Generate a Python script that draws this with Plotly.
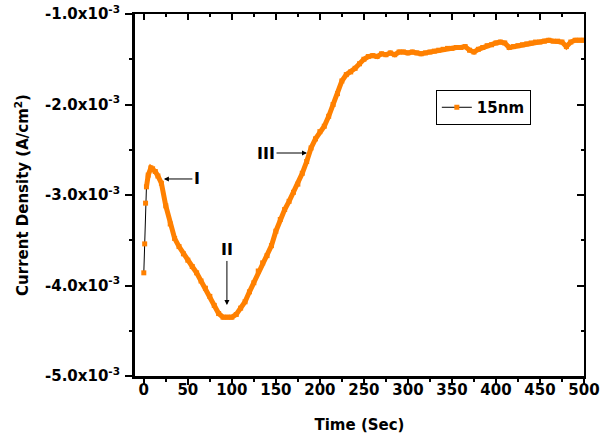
import numpy as np
import plotly.graph_objects as go

# Time (s)
time_s = [0, 1, 2, 3, 5, 8, 10, 13, 16, 20, 25, 30, 35, 40, 45, 50, 55, 60, 65, 70,
          75, 80, 85, 90, 95, 100, 105, 110, 115, 120, 125, 130, 135, 140, 145, 150,
          155, 160, 165, 170, 175, 180, 185, 190, 195, 200, 205, 210, 215, 220, 225,
          230, 235, 240, 245, 250, 255, 260, 265, 270, 275, 280, 285, 290, 295, 300,
          305, 310, 315, 320, 325, 330, 335, 340, 345, 350, 355, 360, 365, 370, 375,
          380, 385, 390, 395, 400, 405, 410, 415, 420, 425, 430, 435, 440, 445, 450,
          455, 460, 465, 470, 475, 480, 485, 490, 495, 500]
# Current density (x1e-3 A/cm^2)
current_e3 = [-3.86, -3.54, -3.09, -2.91, -2.78, -2.70, -2.71, -2.74, -2.79, -2.87,
              -3.12, -3.32, -3.48, -3.57, -3.65, -3.72, -3.79, -3.86, -3.95, -4.03,
              -4.12, -4.22, -4.31, -4.35, -4.35, -4.35, -4.32, -4.25, -4.18, -4.07,
              -3.97, -3.84, -3.75, -3.67, -3.56, -3.40, -3.27, -3.16, -3.07, -2.97,
              -2.88, -2.76, -2.63, -2.48, -2.38, -2.30, -2.24, -2.13, -2.00, -1.88,
              -1.74, -1.67, -1.64, -1.60, -1.55, -1.50, -1.47, -1.46, -1.47, -1.44,
              -1.45, -1.43, -1.45, -1.42, -1.42, -1.43, -1.42, -1.43, -1.44, -1.43,
              -1.42, -1.41, -1.40, -1.39, -1.38, -1.38, -1.37, -1.37, -1.36, -1.40,
              -1.42, -1.39, -1.37, -1.35, -1.34, -1.32, -1.31, -1.32, -1.37, -1.36,
              -1.35, -1.34, -1.33, -1.32, -1.31, -1.31, -1.30, -1.29, -1.30, -1.30,
              -1.31, -1.36, -1.31, -1.29, -1.29, -1.29]

y_tickvals_e3 = [-5.0, -4.0, -3.0, -2.0, -1.0]
y_ticktext = ["-5.0x10<sup>-3</sup>", "-4.0x10<sup>-3</sup>", "-3.0x10<sup>-3</sup>",
              "-2.0x10<sup>-3</sup>", "-1.0x10<sup>-3</sup>"]
x_tickvals = [0, 50, 100, 150, 200, 250, 300, 350, 400, 450, 500]

series_name = "15nm"
orange = "#FF8000"

t = np.array(time_s)
j = np.array(current_e3) * 1e-3
yt = [v * 1e-3 for v in y_tickvals_e3]

FONT = "DejaVu Sans, sans-serif"

fig = go.Figure()
fig.add_trace(go.Scatter(
    x=t, y=j, mode="lines+markers", name=series_name,
    line=dict(color="black", width=1),
    marker=dict(symbol="square", size=5, color=orange),
))
fig.add_trace(go.Scatter(
    x=t[3:], y=j[3:], mode="lines", showlegend=False, hoverinfo="skip",
    line=dict(color=orange, width=5),
))
# dummy trace for mirrored axes
fig.add_trace(go.Scatter(x=[None], y=[None], xaxis="x2", yaxis="y2",
                         showlegend=False, hoverinfo="skip"))

xr = [-10, 500]
yr = [-5.0e-3, -1.0e-3]

fig.update_layout(
    width=600, height=443,
    margin=dict(l=135, r=16, t=14, b=67, autoexpand=False),
    paper_bgcolor="white", plot_bgcolor="white",
    font=dict(family=FONT, size=15, color="black", weight=700),
    showlegend=True,
    legend=dict(x=0.67, y=0.79, xanchor="left", yanchor="top",
                bgcolor="white", bordercolor="black", borderwidth=1,
                font=dict(size=15, family=FONT, weight=700),
                itemwidth=30, tracegroupgap=0),
    xaxis=dict(range=xr, tickvals=x_tickvals, ticks="outside", ticklen=6, tickwidth=2,
               tickcolor="black", showline=True, linewidth=3, linecolor="black",
               showgrid=False, zeroline=False, automargin=False, ticklabelstandoff=-8,
               ticklabeloverflow="allow",
               minor=dict(dtick=25, tick0=0, ticks="outside", ticklen=3, tickwidth=2, tickcolor="black"),
               tickfont=dict(size=15, family=FONT, weight=700),
               title=dict(text="Time (Sec)", font=dict(size=15, family=FONT, weight=700), standoff=22)),
    yaxis=dict(range=yr, tickvals=yt, ticktext=y_ticktext, ticks="outside", ticklen=7, tickwidth=2,
               tickcolor="black", showline=True, linewidth=3, linecolor="black",
               showgrid=False, zeroline=False, automargin=False, ticklabelstandoff=2,
               ticklabeloverflow="allow",
               minor=dict(dtick=0.5e-3, tick0=-5e-3, ticks="outside", ticklen=3, tickwidth=2, tickcolor="black"),
               tickfont=dict(size=15, family=FONT, weight=700),
               title=dict(text="Current Density (A/cm<sup>2</sup>)", font=dict(size=15, family=FONT, weight=700), standoff=13)),
    xaxis2=dict(range=xr, overlaying="x", side="top", tickvals=x_tickvals, ticks="inside",
                ticklen=6, tickwidth=2, tickcolor="black", showticklabels=False, automargin=False,
                showline=True, linewidth=2, linecolor="black", showgrid=False, zeroline=False,
                minor=dict(dtick=25, tick0=0, ticks="inside", ticklen=3, tickwidth=2, tickcolor="black")),
    yaxis2=dict(range=yr, overlaying="y", side="right", tickvals=yt, ticks="inside", automargin=False,
                ticklen=7, tickwidth=2, tickcolor="black", showticklabels=False,
                showline=True, linewidth=2, linecolor="black", showgrid=False, zeroline=False,
                minor=dict(dtick=0.5e-3, tick0=-5e-3, ticks="inside", ticklen=3, tickwidth=2, tickcolor="black")),
)

ann_font = dict(size=16, family=FONT, weight=700, color="black")
fig.add_annotation(x=22.8, y=-2.823e-3, text="I", showarrow=True, ax=33, ay=0,
                   arrowhead=2, arrowsize=1, arrowwidth=1, arrowcolor="black", font=ann_font)
fig.add_annotation(x=94.4, y=-4.215e-3, text="II", showarrow=True, ax=0, ay=-55,
                   arrowhead=2, arrowsize=1, arrowwidth=1, arrowcolor="black", font=ann_font)
fig.add_annotation(x=185.4, y=-2.536e-3, text="III", showarrow=True, ax=-41, ay=0,
                   arrowhead=2, arrowsize=1, arrowwidth=1, arrowcolor="black", font=ann_font)

fig.write_html("out.html", config={"displayModeBar": False},
               post_script="document.body.style.margin='0';document.body.style.overflow='hidden';")
